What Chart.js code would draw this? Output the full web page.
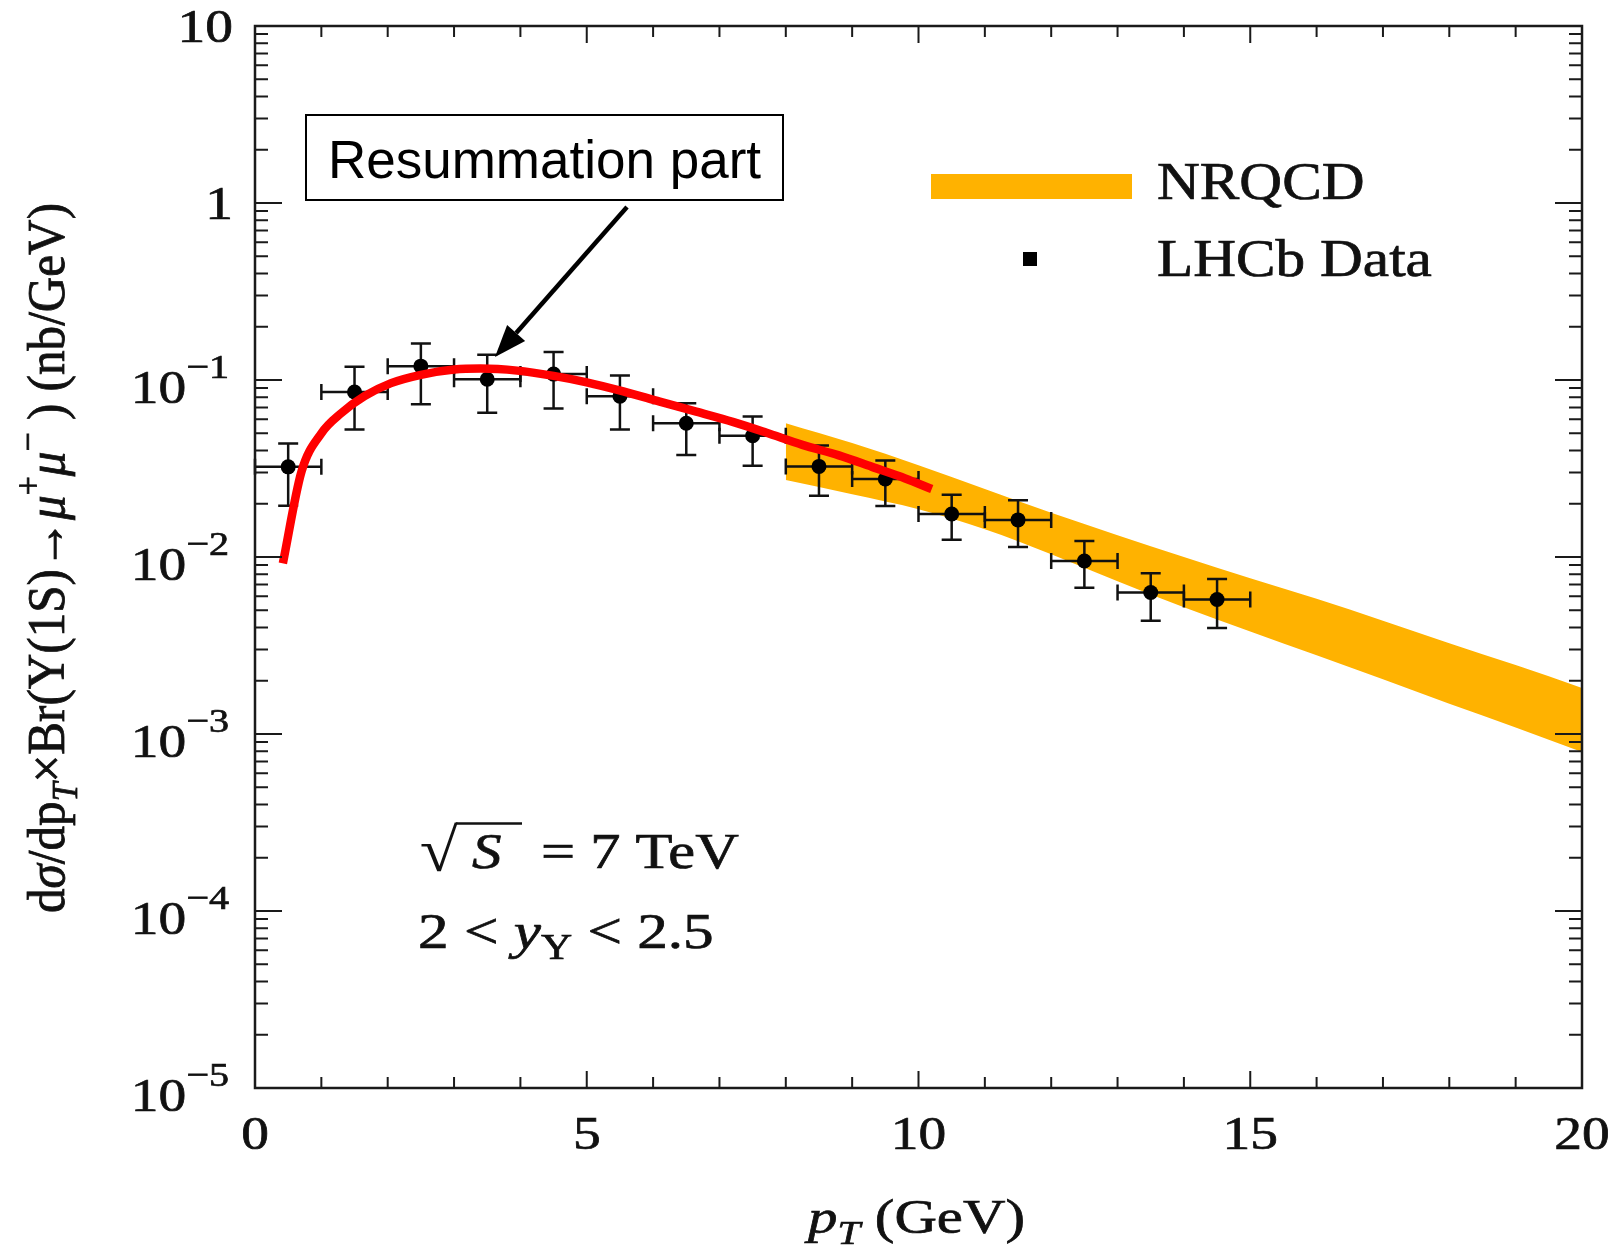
<!DOCTYPE html>
<html><head><meta charset="utf-8">
<script src="https://cdn.jsdelivr.net/npm/chart.js@4/dist/chart.umd.min.js"></script>
<style>html,body{margin:0;padding:0;background:#fff;overflow:hidden}#wrap{width:1617px;height:1246px;position:relative}</style>
</head><body><div id="wrap"><canvas id="c"></canvas></div>
<script>
// ---- data ----
const lhcbPt      = [0.5, 1.5, 2.5, 3.5, 4.5, 5.5, 6.5, 7.5, 8.5, 9.5, 10.5, 11.5, 12.5, 13.5, 14.5];
const lhcbPtLow   = [0, 1, 2, 3, 4, 5, 6, 7, 8, 9, 10, 11, 12, 13, 14];
const lhcbPtHigh  = [1, 2, 3, 4, 5, 6, 7, 8, 9, 10, 11, 12, 13, 14, 15];
const lhcbVal     = [0.0323, 0.0856, 0.1197, 0.101, 0.108, 0.081, 0.057, 0.0484, 0.0325, 0.0276, 0.0175, 0.0162, 0.0095, 0.0063, 0.00575];
const lhcbErrHigh = [0.0438, 0.119, 0.1607, 0.139, 0.144, 0.106, 0.0738, 0.0622, 0.0427, 0.0351, 0.0225, 0.0209, 0.0123, 0.0081, 0.0075];
const lhcbErrLow  = [0.0195, 0.0526, 0.0729, 0.0653, 0.069, 0.0526, 0.0377, 0.0328, 0.0222, 0.0194, 0.0125, 0.0114, 0.0067, 0.00436, 0.00397];

const resumPt  = [0.42, 0.7, 1.0, 1.3, 1.65, 2.05, 2.5, 3.0, 3.4, 3.95, 4.5, 5.0, 5.55, 6.1, 6.65, 7.2, 7.7, 8.25, 8.8, 9.3, 9.8, 10.2];
const resumVal = [0.0092, 0.0303, 0.050, 0.065, 0.081, 0.096, 0.107, 0.1145, 0.116, 0.113, 0.1055, 0.097, 0.0862, 0.0755, 0.0662, 0.058, 0.0505, 0.043, 0.0375, 0.0323, 0.0278, 0.0242];

const nrqcdPt    = [8, 9, 10, 11, 12, 13, 14, 15, 16, 17, 18, 19, 20];
const nrqcdUpper = [0.0570, 0.0440, 0.0330, 0.0242, 0.01778, 0.01327, 0.0100, 0.00759, 0.0058, 0.00436, 0.00326, 0.00245, 0.00182];
const nrqcdLower = [0.0272, 0.0226, 0.0186, 0.01436, 0.01038, 0.00730, 0.00520, 0.00380, 0.00279, 0.00204, 0.00148, 0.00109, 0.00079];

const xMajorTicks = [0, 5, 10, 15, 20];
const xTickLabels = ['0', '5', '10', '15', '20'];
const xMinorTicks = [1, 2, 3, 4, 6, 7, 8, 9, 11, 12, 13, 14, 16, 17, 18, 19];
const yMajorTicks = [10, 1, 0.1, 0.01, 0.001, 1e-4, 1e-5];
const yTickBase   = ['10', '1', '10', '10', '10', '10', '10'];
const yTickExp    = ['', '', '−1', '−2', '−3', '−4', '−5'];
const yDecades    = [-5, -4, -3, -2, -1, 0];
const yMinorMult  = [2, 3, 4, 5, 6, 7, 8, 9];

const legendLabels = ['NRQCD', 'LHCb Data'];
const annotationText = 'Resummation part';

// ---- drawing helpers ----
const SERIF = '"Liberation Serif", "DejaVu Serif", serif';
const SX = 1.18;
function fontOf(s, size) {
  return (s.it ? 'italic ' : '') + Math.round(size * (s.sc || 1)) + 'px ' + SERIF;
}
function richWidth(ctx, segs, size) {
  let w = 0;
  for (const s of segs) { ctx.font = fontOf(s, size); w += ctx.measureText(s.t).width; }
  return w;
}
function drawRich(ctx, x, y, segs, size, sx, sy, align) {
  const w = richWidth(ctx, segs, size) * sx;
  let cx = align === 'center' ? x - w / 2 : (align === 'right' ? x - w : x);
  ctx.save();
  ctx.translate(cx, y);
  ctx.scale(sx, sy);
  ctx.textBaseline = 'alphabetic';
  ctx.textAlign = 'left';
  ctx.lineWidth = 0.7;
  ctx.strokeStyle = ctx.fillStyle;
  let px = 0;
  for (const s of segs) {
    ctx.font = fontOf(s, size);
    ctx.fillText(s.t, px, (s.dy || 0) * size);
    ctx.strokeText(s.t, px, (s.dy || 0) * size);
    px += ctx.measureText(s.t).width;
  }
  ctx.restore();
}

const decorPlugin = {
  id: 'decor',
  beforeDatasetDraw(chart, args) {
    if (args.index !== 1) return;
    const ctx = chart.ctx, xs = chart.scales.x, ys = chart.scales.y;
    ctx.save();
    ctx.strokeStyle = '#111';
    ctx.lineWidth = 2.5;
    for (let i = 0; i < lhcbPt.length; i++) {
      const px = xs.getPixelForValue(lhcbPt[i]);
      const py = ys.getPixelForValue(lhcbVal[i]);
      const yt = ys.getPixelForValue(lhcbErrHigh[i]);
      const yb = ys.getPixelForValue(lhcbErrLow[i]);
      const xl = xs.getPixelForValue(lhcbPtLow[i]);
      const xr = xs.getPixelForValue(lhcbPtHigh[i]);
      ctx.beginPath();
      ctx.moveTo(px, yt); ctx.lineTo(px, yb);
      ctx.moveTo(px - 10, yt); ctx.lineTo(px + 10, yt);
      ctx.moveTo(px - 10, yb); ctx.lineTo(px + 10, yb);
      ctx.moveTo(xl, py); ctx.lineTo(xr, py);
      ctx.moveTo(xl, py - 8); ctx.lineTo(xl, py + 8);
      ctx.moveTo(xr, py - 8); ctx.lineTo(xr, py + 8);
      ctx.stroke();
    }
    ctx.restore();
  },
  afterDraw(chart) {
    const ctx = chart.ctx, xs = chart.scales.x, ys = chart.scales.y, a = chart.chartArea;
    ctx.save();
    // frame
    ctx.strokeStyle = '#1a1a1a';
    ctx.lineWidth = 2.5;
    ctx.strokeRect(a.left, a.top, a.right - a.left, a.bottom - a.top);
    ctx.lineWidth = 2;
    ctx.beginPath();
    for (const v of xMajorTicks) {
      const p = xs.getPixelForValue(v);
      ctx.moveTo(p, a.bottom); ctx.lineTo(p, a.bottom - 17);
      ctx.moveTo(p, a.top); ctx.lineTo(p, a.top + 17);
    }
    for (const v of xMinorTicks) {
      const p = xs.getPixelForValue(v);
      ctx.moveTo(p, a.bottom); ctx.lineTo(p, a.bottom - 11);
      ctx.moveTo(p, a.top); ctx.lineTo(p, a.top + 11);
    }
    for (const v of yMajorTicks) {
      const p = ys.getPixelForValue(v);
      ctx.moveTo(a.left, p); ctx.lineTo(a.left + 27, p);
      ctx.moveTo(a.right, p); ctx.lineTo(a.right - 27, p);
    }
    for (const d of yDecades) {
      for (const m of yMinorMult) {
        const p = ys.getPixelForValue(m * Math.pow(10, d));
        ctx.moveTo(a.left, p); ctx.lineTo(a.left + 13, p);
        ctx.moveTo(a.right, p); ctx.lineTo(a.right - 13, p);
      }
    }
    ctx.stroke();

    ctx.fillStyle = '#111';
    // x tick labels
    for (let i = 0; i < xMajorTicks.length; i++) {
      const p = xs.getPixelForValue(xMajorTicks[i]);
      drawRich(ctx, p, a.bottom + 61, [{t: xTickLabels[i]}], 47, SX, 1, 'center');
    }
    // y tick labels
    for (let i = 0; i < yMajorTicks.length; i++) {
      const p = ys.getPixelForValue(yMajorTicks[i]);
      if (yTickExp[i]) {
        drawRich(ctx, 229, p + 23, [{t: yTickBase[i]}, {t: yTickExp[i], sc: 0.72, dy: -0.53}], 47, SX, 1, 'right');
      } else {
        drawRich(ctx, 233, p + 16, [{t: yTickBase[i]}], 47, SX, 1, 'right');
      }
    }
    // x title
    drawRich(ctx, (a.left + a.right) / 2 - 2, 1233,
      [{t: 'p', it: true}, {t: 'T', it: true, sc: 0.7, dy: 0.22}, {t: ' (GeV)'}], 49, 1.2, 1, 'center');
    // y title (rotated)
    const ySegs = [{t: 'd'}, {t: 'σ', it: true}, {t: '/dp'}, {t: 'T', it: true, sc: 0.7, dy: 0.25},
      {t: '×Br(Υ(1S)→'}, {t: 'μ', it: true}, {t: '+', sc: 0.7, dy: -0.45}, {t: 'μ', it: true},
      {t: '−', sc: 0.7, dy: -0.45}, {t: ' ) (nb/GeV)'}];
    const yw = richWidth(ctx, ySegs, 45);
    ctx.save();
    ctx.translate(64, 558);
    ctx.rotate(-Math.PI / 2);
    drawRich(ctx, 0, 0, ySegs, 45, 710 / yw, SX, 'center');
    ctx.restore();

    // legend
    ctx.fillStyle = '#FFB200';
    ctx.fillRect(931, 174, 201, 25);
    ctx.fillStyle = '#000';
    ctx.fillRect(1023, 252, 14, 14);
    ctx.fillStyle = '#111';
    drawRich(ctx, 1157, 199, [{t: legendLabels[0]}], 52, 1.14, 1, 'left');
    drawRich(ctx, 1157, 276, [{t: legendLabels[1]}], 52, 1.14, 1, 'left');

    // energy / rapidity text: radical sign fitted into its box
    ctx.save();
    ctx.font = '60px ' + SERIF;
    const m = ctx.measureText('√');
    const gl = -m.actualBoundingBoxLeft, gr = m.actualBoundingBoxRight;
    const gt = -m.actualBoundingBoxAscent, gb = m.actualBoundingBoxDescent;
    const rsx = 37 / Math.max(1, gr - gl), rsy = 50 / Math.max(1, gb - gt);
    ctx.translate(421, 822);
    ctx.scale(rsx, rsy);
    ctx.textAlign = 'left';
    ctx.textBaseline = 'alphabetic';
    ctx.fillStyle = '#111';
    ctx.fillText('√', -gl, -gt);
    ctx.restore();
    ctx.strokeStyle = '#111';
    ctx.lineWidth = 2.5;
    ctx.beginPath(); ctx.moveTo(456, 823.5); ctx.lineTo(522, 823.5); ctx.stroke();
    ctx.fillStyle = '#111';
    drawRich(ctx, 472, 868, [{t: 'S', it: true}], 50, SX, 1, 'left');
    drawRich(ctx, 541, 868, [{t: '= 7 TeV'}], 50, 1.21, 1, 'left');
    drawRich(ctx, 418, 948, [{t: '2 < '}, {t: 'y', it: true}, {t: 'Υ', sc: 0.7, dy: 0.22}, {t: ' < 2.5'}], 51, 1.2, 1, 'left');

    // annotation box and arrow
    ctx.fillStyle = '#fff';
    ctx.fillRect(306, 115, 477, 85);
    ctx.strokeStyle = '#000';
    ctx.lineWidth = 2;
    ctx.strokeRect(306, 115, 477, 85);
    ctx.fillStyle = '#000';
    ctx.font = '53px "Liberation Sans", Arial, sans-serif';
    ctx.textAlign = 'center';
    ctx.textBaseline = 'alphabetic';
    ctx.fillText(annotationText, 544.5, 178);
    const x0 = 627, y0 = 207, x1 = 495, y1 = 357;
    const ang = Math.atan2(y1 - y0, x1 - x0);
    const hl = 32, hw = 12;
    const bx = x1 - hl * Math.cos(ang), by = y1 - hl * Math.sin(ang);
    ctx.lineWidth = 4.5;
    ctx.beginPath(); ctx.moveTo(x0, y0); ctx.lineTo(bx, by); ctx.stroke();
    ctx.beginPath();
    ctx.moveTo(x1, y1);
    ctx.lineTo(bx + hw * Math.sin(ang), by - hw * Math.cos(ang));
    ctx.lineTo(bx - hw * Math.sin(ang), by + hw * Math.cos(ang));
    ctx.closePath(); ctx.fill();
    ctx.restore();
  }
};

const toXY = (xs, ys) => xs.map((x, i) => ({x: x, y: ys[i]}));

new Chart(document.getElementById('c'), {
  type: 'line',
  data: {
    datasets: [
      { label: 'Resummation', data: toXY(resumPt, resumVal), order: 0,
        borderColor: '#FF0000', borderWidth: 8.5, pointRadius: 0, fill: false,
        cubicInterpolationMode: 'monotone', borderCapStyle: 'butt', borderJoinStyle: 'round' },
      { label: legendLabels[1], data: toXY(lhcbPt, lhcbVal), order: 1, showLine: false,
        pointRadius: 7.5, pointBackgroundColor: '#000', pointBorderWidth: 0, borderColor: '#000' },
      { label: legendLabels[0] + ' upper', data: toXY(nrqcdPt, nrqcdUpper), order: 2,
        borderWidth: 0, pointRadius: 0, fill: 3, backgroundColor: '#FFB200',
        cubicInterpolationMode: 'monotone' },
      { label: legendLabels[0] + ' lower', data: toXY(nrqcdPt, nrqcdLower), order: 3,
        borderWidth: 0, pointRadius: 0, fill: false, cubicInterpolationMode: 'monotone' }
    ]
  },
  options: {
    responsive: true, maintainAspectRatio: false, animation: false, devicePixelRatio: 1,
    layout: { padding: { left: 255, right: 35, top: 26, bottom: 158 } },
    scales: {
      x: { type: 'linear', min: 0, max: 20, display: false },
      y: { type: 'logarithmic', min: 1e-5, max: 10, display: false }
    },
    plugins: { legend: { display: false }, tooltip: { enabled: false } }
  },
  plugins: [decorPlugin]
});
</script>
</body></html>
